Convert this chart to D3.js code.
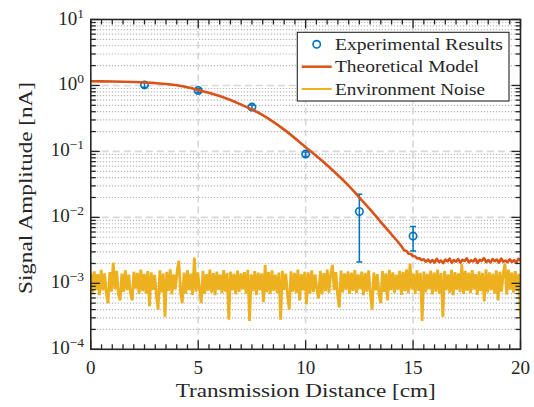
<!DOCTYPE html>
<html>
<head>
<meta charset="utf-8">
<script src="https://cdn.jsdelivr.net/npm/d3@7"></script>
<style>
  body { margin: 0; background: #fff; }
  svg { display: block; }
</style>
</head>
<body>
<svg id="chart" width="534" height="407"></svg>
<script>
// Measured signal amplitude (nA) with symmetric error bars
const expDistance = [2.5, 5, 7.5, 10, 12.5, 15];
const expAmplitude = [1.02, 0.84, 0.47, 0.091, 0.0123, 0.0052];
const expError = [0.08, 0.06, 0.035, 0.007, 0.0102, 0.0021];

// Theoretical model, smooth decay part (nA)
const modelDistance = [0, 1, 2, 3, 4, 5, 6, 7, 8, 9, 10, 11, 12, 12.5, 13, 13.5, 14];
const modelAmplitude = [1.156, 1.151, 1.130, 1.086, 1.005, 0.855, 0.692, 0.513, 0.355, 0.214,
  0.116, 0.0617, 0.0302, 0.0200, 0.0132, 0.0085, 0.0055];

// Theoretical model near the noise floor, sampled every 0.1 cm from 14.5 cm (pA)
const modelTailStart = 14.5;
const modelTailStep = 0.1;
const modelTailPicoAmp = [
  3.50, 3.15, 3.08, 2.80, 2.78, 2.58, 2.56, 2.38, 2.40, 2.25,
  2.32, 2.12, 2.30, 2.08, 2.26, 2.05, 2.35, 2.10, 2.22, 2.02,
  2.30, 2.15, 2.38, 2.04, 2.25, 2.12, 2.33, 2.06, 2.28, 2.18,
  2.40, 2.08, 2.24, 2.14, 2.36, 2.03, 2.27, 2.19, 2.42, 2.10,
  2.25, 2.07, 2.34, 2.16, 2.29, 2.05, 2.37, 2.13, 2.22, 2.09,
  2.31, 2.11, 2.26, 2.04, 2.35, 2.20
];

// Environment noise over 0–20 cm, evenly sampled (pA)
const noisePicoAmp = [
  1.45, 0.72, 1.52, 0.80, 1.38, 0.66, 1.60, 0.78, 1.42, 0.70,
  0.50, 1.48, 0.75, 2.06, 0.82, 1.55, 0.68, 0.55, 1.40, 0.74,
  1.58, 0.79, 1.36, 0.71, 0.55, 1.50, 0.83, 1.44, 0.69, 1.62,
  0.76, 1.39, 0.70, 1.53, 0.45, 1.47, 0.80, 1.35, 0.66, 0.40,
  1.57, 0.73, 1.41, 0.31, 1.49, 0.77, 1.63, 0.68, 1.37, 0.81,
  1.52, 2.20, 0.74, 0.50, 1.45, 0.70, 1.58, 0.79, 1.40, 0.67,
  2.45, 0.75, 1.46, 0.82, 0.50, 1.54, 0.69, 1.38, 0.77, 1.61,
  0.72, 1.43, 0.66, 1.50, 0.80, 1.36, 0.71, 1.59, 0.75, 1.44,
  0.28, 1.51, 0.78, 1.39, 0.68, 1.56, 0.74, 1.42, 0.81, 1.48,
  0.70, 1.60, 0.27, 1.37, 0.76, 1.53, 0.67, 1.45, 0.79, 1.41,
  0.52, 1.90, 0.73, 1.49, 0.69, 1.57, 0.77, 1.35, 0.72, 1.46,
  0.28, 1.55, 0.80, 1.40, 0.66, 0.40, 1.52, 0.75, 1.44, 0.71,
  1.62, 0.55, 1.38, 0.78, 1.50, 0.48, 1.47, 0.70, 1.58, 0.74,
  1.36, 0.81, 0.59, 1.54, 0.68, 1.43, 0.76, 1.61, 0.72, 1.39,
  1.90, 0.79, 1.48, 0.67, 0.43, 1.56, 0.73, 1.41, 0.80, 1.52,
  0.69, 1.45, 0.77, 1.59, 0.71, 1.37, 0.82, 1.50, 0.66, 1.44,
  0.75, 1.57, 0.70, 0.40, 1.46, 0.78, 1.38, 0.68, 0.50, 1.53,
  0.74, 1.42, 0.55, 1.60, 0.79, 1.47, 0.72, 1.35, 0.80, 1.55,
  0.67, 1.49, 0.76, 1.63, 0.71, 2.00, 0.81, 1.40, 0.69, 1.58,
  0.77, 1.44, 0.27, 1.51, 0.73, 1.39, 0.82, 1.56, 0.68, 1.46,
  0.75, 1.62, 0.70, 1.43, 0.31, 1.54, 0.79, 1.37, 0.72, 1.60,
  0.66, 1.48, 0.80, 1.41, 0.74, 1.95, 0.69, 1.55, 0.77, 1.45,
  0.71, 1.59, 0.81, 1.38, 0.67, 1.52, 0.76, 1.44, 0.53, 1.63,
  0.73, 1.47, 0.79, 1.40, 0.70, 1.57, 0.55, 1.50, 0.75, 1.42,
  2.00, 0.68, 1.61, 0.80, 1.46, 0.72, 1.53, 0.77, 1.39, 0.31
];

const xTicks = [0, 5, 10, 15, 20];
const yTickExponents = [-4, -3, -2, -1, 0, 1];
const legendLabels = ["Experimental Results", "Theoretical Model", "Environment Noise"];

const colors = { exp: "#0072BD", model: "#D95319", noise: "#EDB120", axis: "#262626" };
const serif = "'Times New Roman', 'Liberation Serif', 'DejaVu Serif', serif";

const svg = d3.select("#chart");
const plot = { left: 90.8, right: 520.5, top: 19.5, bottom: 349.3 };

const x = d3.scaleLinear().domain([0, 20]).range([plot.left, plot.right]);
const y = d3.scaleLog().domain([1e-4, 10]).range([plot.bottom, plot.top]);

// Series assembled from the arrays above
const modelData = modelDistance.map((d, i) => [d, modelAmplitude[i]])
  .concat(modelTailPicoAmp.map((v, i) => [modelTailStart + i * modelTailStep, v / 1000]));
const noiseData = noisePicoAmp.map((v, i) => [i * 20 / (noisePicoAmp.length - 1), v / 1000]);

const majorY = yTickExponents.map(e => Math.pow(10, e));
const minorY = [];
for (let e = -4; e < 1; e++) for (let k = 2; k <= 9; k++) minorY.push(k * Math.pow(10, e));
const minorX = d3.range(0, 20.01, 0.5).filter(v => v % 5 !== 0);

// Grid
const grid = svg.append("g");
grid.selectAll(".minorY").data(minorY).join("line")
  .attr("x1", plot.left).attr("x2", plot.right)
  .attr("y1", d => y(d)).attr("y2", d => y(d))
  .attr("stroke", "#b9b9b9").attr("stroke-width", 1.2).attr("stroke-dasharray", "1.3,1.7");
grid.selectAll(".majorY").data(majorY.slice(1, -1)).join("line")
  .attr("x1", plot.left).attr("x2", plot.right)
  .attr("y1", d => y(d)).attr("y2", d => y(d))
  .attr("stroke", "#d8d8d8").attr("stroke-width", 1.6).attr("stroke-dasharray", "7,4");
grid.selectAll(".majorX").data(xTicks.slice(1, -1)).join("line")
  .attr("y1", plot.top).attr("y2", plot.bottom)
  .attr("x1", d => x(d)).attr("x2", d => x(d))
  .attr("stroke", "#d8d8d8").attr("stroke-width", 1.6).attr("stroke-dasharray", "7,4");

// Clip for data lines
svg.append("clipPath").attr("id", "plotClip").append("rect")
  .attr("x", plot.left).attr("y", plot.top)
  .attr("width", plot.right - plot.left).attr("height", plot.bottom - plot.top);

const data = svg.append("g").attr("clip-path", "url(#plotClip)");

// Experimental results with error bars
const expG = data.append("g");
expDistance.forEach((d, i) => {
  const v = expAmplitude[i], e = expError[i];
  const cx = x(d), lo = y(v - e), hi = y(v + e);
  expG.append("line").attr("x1", cx).attr("x2", cx).attr("y1", lo).attr("y2", hi)
    .attr("stroke", colors.exp).attr("stroke-width", 1.5);
  [lo, hi].forEach(yy => expG.append("line")
    .attr("x1", cx - 3).attr("x2", cx + 3).attr("y1", yy).attr("y2", yy)
    .attr("stroke", colors.exp).attr("stroke-width", 1.5));
  expG.append("circle").attr("cx", cx).attr("cy", y(v)).attr("r", 3.7)
    .attr("fill", "none").attr("stroke", colors.exp).attr("stroke-width", 1.6);
});

data.append("path").datum(modelData)
  .attr("d", d3.line().x(d => x(d[0])).y(d => y(d[1])).curve(d3.curveMonotoneX))
  .attr("fill", "none").attr("stroke", colors.model).attr("stroke-width", 2.6)
  .attr("stroke-linejoin", "round");

data.append("path").datum(noiseData)
  .attr("d", d3.line().x(d => x(d[0])).y(d => y(d[1])))
  .attr("fill", "none").attr("stroke", colors.noise).attr("stroke-width", 2.8)
  .attr("stroke-linejoin", "bevel");

// Axes: box and inward ticks on all four sides
const axes = svg.append("g").attr("stroke", colors.axis);
function ticks(values, len, side) {
  axes.selectAll(null).data(values).join("line")
    .attr("stroke-width", 1.3)
    .each(function (v) {
      const s = d3.select(this);
      if (side === "bottom") s.attr("x1", x(v)).attr("x2", x(v)).attr("y1", plot.bottom).attr("y2", plot.bottom - len);
      if (side === "top") s.attr("x1", x(v)).attr("x2", x(v)).attr("y1", plot.top).attr("y2", plot.top + len);
      if (side === "left") s.attr("y1", y(v)).attr("y2", y(v)).attr("x1", plot.left).attr("x2", plot.left + len);
      if (side === "right") s.attr("y1", y(v)).attr("y2", y(v)).attr("x1", plot.right).attr("x2", plot.right - len);
    });
}
["bottom", "top"].forEach(s => { ticks(xTicks, 9, s); ticks(minorX, 5, s); });
["left", "right"].forEach(s => { ticks(majorY, 9, s); ticks(minorY, 5, s); });
axes.append("rect").attr("x", plot.left).attr("y", plot.top)
  .attr("width", plot.right - plot.left).attr("height", plot.bottom - plot.top)
  .attr("fill", "none").attr("stroke-width", 1.6);

// All text shares one serif face
const txt = svg.append("g").attr("fill", colors.axis);

// Tick labels
txt.append("g").selectAll("text").data(xTicks).join("text")
  .attr("font-family", serif)
  .attr("x", d => x(d)).attr("y", 373.5).attr("text-anchor", "middle")
  .attr("font-size", 19).text(d => d);

const yl = txt.append("g").selectAll("text").data(yTickExponents).join("text")
  .attr("font-family", serif)
  .attr("x", 84).attr("y", d => y(Math.pow(10, d)) + 5).attr("text-anchor", "end")
  .attr("font-size", 19);
yl.append("tspan").text("10");
yl.append("tspan").attr("dy", -7).attr("font-size", 13.5)
  .text(d => (d < 0 ? "\u2212" + Math.abs(d) : String(d)));

// Axis titles
txt.append("text").attr("font-family", serif)
  .attr("x", (plot.left + plot.right) / 2).attr("y", 397)
  .attr("text-anchor", "middle").attr("font-size", 19.5)
  .attr("textLength", 260).attr("lengthAdjust", "spacingAndGlyphs")
  .text("Transmission Distance [cm]");
txt.append("text").attr("font-family", serif)
  .attr("transform", "translate(32,188) rotate(-90)")
  .attr("text-anchor", "middle").attr("font-size", 19.5)
  .attr("textLength", 212).attr("lengthAdjust", "spacingAndGlyphs")
  .text("Signal Amplitude [nA]");

// Legend
const lg = svg.append("g");
lg.append("rect").attr("x", 297.3).attr("y", 32.3).attr("width", 211.7).attr("height", 68.7)
  .attr("fill", "#fff").attr("stroke", colors.axis).attr("stroke-width", 1.1);
const rowY = [44.3, 66.7, 89];
lg.append("circle").attr("cx", 316.7).attr("cy", rowY[0]).attr("r", 3.7)
  .attr("fill", "none").attr("stroke", colors.exp).attr("stroke-width", 1.6);
lg.append("line").attr("x1", 301.7).attr("x2", 331.7).attr("y1", rowY[1]).attr("y2", rowY[1])
  .attr("stroke", colors.model).attr("stroke-width", 2.5);
lg.append("line").attr("x1", 301.7).attr("x2", 331.7).attr("y1", rowY[2]).attr("y2", rowY[2])
  .attr("stroke", colors.noise).attr("stroke-width", 2);
const legendWidths = [168, 144, 150];
lg.selectAll("text").data(legendLabels).join("text")
  .attr("font-family", serif).attr("fill", colors.axis)
  .attr("x", 335).attr("y", (d, i) => rowY[i] + 5.5)
  .attr("font-size", 16.5)
  .attr("textLength", (d, i) => legendWidths[i]).attr("lengthAdjust", "spacingAndGlyphs")
  .text(d => d);
</script>
</body>
</html>
